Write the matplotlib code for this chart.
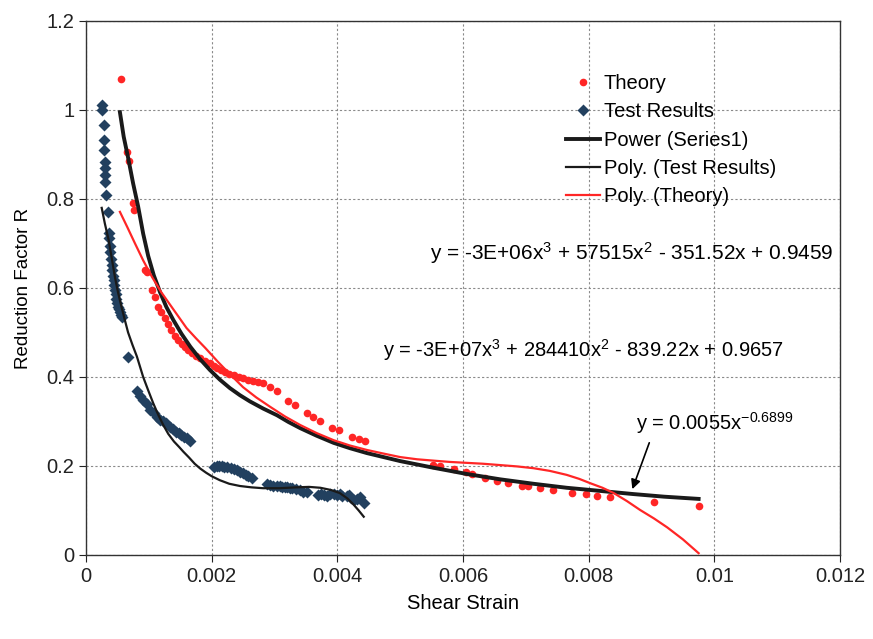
import numpy as np
import matplotlib
matplotlib.use('Agg')
import matplotlib.pyplot as plt

plt.rcParams['font.family'] = ['Liberation Sans', 'DejaVu Sans']
plt.rcParams['mathtext.default'] = 'regular'

# Theory points (shear strain, R)
theory_x = [0.00056, 0.00066, 0.00068, 0.00075, 0.00076, 0.00094, 0.00097, 0.00105, 0.00110,
            0.00115, 0.00120, 0.00126, 0.00131, 0.00136, 0.00142, 0.00147, 0.00153, 0.00158,
            0.00163, 0.00168, 0.00175, 0.00182, 0.00190, 0.00197, 0.00203, 0.00208, 0.00215,
            0.00221, 0.00228, 0.00235, 0.00243, 0.00250, 0.00258, 0.00266, 0.00274, 0.00282,
            0.00293, 0.00304, 0.00322, 0.00333, 0.00351, 0.00362, 0.00373, 0.00391, 0.00402,
            0.00423, 0.00434, 0.00444, 0.00553, 0.00564, 0.00585, 0.00604, 0.00614, 0.00635,
            0.00654, 0.00672, 0.00694, 0.00704, 0.00723, 0.00744, 0.00773, 0.00795, 0.00814,
            0.00834, 0.00904, 0.00975]
theory_y = [1.07, 0.905, 0.885, 0.79, 0.775, 0.64, 0.635, 0.596, 0.58,
            0.558, 0.545, 0.533, 0.52, 0.505, 0.493, 0.483, 0.475, 0.468,
            0.461, 0.454, 0.448, 0.442, 0.436, 0.431, 0.425, 0.420, 0.415,
            0.411, 0.407, 0.404, 0.400, 0.397, 0.393, 0.390, 0.388, 0.386,
            0.378, 0.369, 0.347, 0.337, 0.318, 0.310, 0.300, 0.286, 0.280,
            0.266, 0.260, 0.255, 0.203, 0.200, 0.193, 0.186, 0.182, 0.174,
            0.166, 0.161, 0.155, 0.154, 0.150, 0.145, 0.140, 0.136, 0.133,
            0.130, 0.118, 0.109]

# Test results
test_x = [0.00025, 0.00026, 0.00028, 0.00029, 0.00029, 0.00030, 0.00030, 0.00030, 0.00030,
          0.00032, 0.00035, 0.00036, 0.00037, 0.00038, 0.00039, 0.00040, 0.00041, 0.00042,
          0.00043, 0.00044, 0.00045, 0.00046, 0.00047, 0.00048, 0.00050, 0.00051, 0.00053,
          0.00054, 0.00056, 0.00057, 0.00067,
          0.00081, 0.00086, 0.00091, 0.00097, 0.00102, 0.00108, 0.00113, 0.00118, 0.00123,
          0.00128, 0.00134, 0.00139, 0.00144, 0.00148, 0.00152, 0.00156, 0.00160, 0.00166,
          0.00203, 0.00208, 0.00212, 0.00216, 0.00219, 0.00224, 0.00230, 0.00235, 0.00240,
          0.00245, 0.00250, 0.00254, 0.00258, 0.00264,
          0.00288, 0.00293, 0.00298, 0.00304, 0.00308, 0.00312, 0.00316, 0.00320, 0.00324,
          0.00328, 0.00335, 0.00340, 0.00346, 0.00351,
          0.00370, 0.00374, 0.00378, 0.00383, 0.00388, 0.00394, 0.00399, 0.00404, 0.00408,
          0.00415, 0.00419, 0.00422, 0.00426, 0.00431, 0.00436, 0.00442]
test_y = [1.011, 1.0, 0.966, 0.933, 0.91, 0.884, 0.87, 0.854, 0.839,
          0.809, 0.771, 0.723, 0.712, 0.695, 0.680, 0.665, 0.652, 0.640,
          0.628, 0.617, 0.606, 0.596, 0.586, 0.576, 0.566, 0.558, 0.552,
          0.546, 0.540, 0.535, 0.444,
          0.368, 0.357, 0.348, 0.340, 0.326, 0.318, 0.311, 0.303, 0.300,
          0.296, 0.288, 0.283, 0.277, 0.273, 0.269, 0.265, 0.262, 0.257,
          0.198, 0.200, 0.199, 0.199, 0.198, 0.197, 0.195, 0.193, 0.190,
          0.187, 0.184, 0.180, 0.177, 0.172,
          0.159, 0.158, 0.156, 0.154, 0.155, 0.153, 0.152, 0.152, 0.151,
          0.151, 0.148, 0.146, 0.142, 0.142,
          0.135, 0.137, 0.134, 0.133, 0.136, 0.137, 0.135, 0.136, 0.133,
          0.132, 0.134, 0.128, 0.124, 0.126, 0.130, 0.116]

# Trendlines
power_x = [0.00054, 0.00060, 0.00067, 0.00075, 0.00083, 0.00091, 0.00099, 0.00108, 0.00118,
           0.00128, 0.00139, 0.00152, 0.00166, 0.00181, 0.00197, 0.00213, 0.00229, 0.00245,
           0.00261, 0.00282, 0.00304, 0.00322, 0.00341, 0.00367, 0.00394, 0.00420, 0.00447,
           0.0050, 0.00553, 0.00606, 0.00659, 0.00712, 0.00765, 0.00818, 0.00870, 0.00920,
           0.00975]
power_y = [0.995, 0.94, 0.893, 0.835, 0.783, 0.722, 0.672, 0.628, 0.590,
           0.557, 0.528, 0.497, 0.468, 0.441, 0.416, 0.394, 0.375, 0.359,
           0.345, 0.329, 0.314, 0.299, 0.285, 0.268, 0.252, 0.240, 0.229,
           0.211, 0.196, 0.182, 0.170, 0.160, 0.151, 0.144, 0.137, 0.131,
           0.126]

poly_test_x = [0.00025, 0.00030, 0.00036, 0.00041, 0.00046, 0.00051, 0.00057, 0.00062, 0.00067,
               0.00074, 0.00081, 0.00086, 0.00091, 0.00099, 0.00107, 0.00115, 0.00123, 0.00131,
               0.00140, 0.00148, 0.00155, 0.00164, 0.00173, 0.00182, 0.00191, 0.00200, 0.00213,
               0.00228, 0.00245, 0.00263, 0.00282, 0.00308, 0.00335, 0.00355, 0.00373, 0.00390,
               0.00404, 0.00416, 0.00426, 0.00434, 0.00442]
poly_test_y = [0.78, 0.745, 0.708, 0.667, 0.625, 0.590, 0.555, 0.527, 0.50,
               0.472, 0.446, 0.423, 0.40, 0.370, 0.341, 0.315, 0.292, 0.272,
               0.255, 0.243, 0.232, 0.219, 0.205, 0.194, 0.185, 0.177, 0.168,
               0.160, 0.155, 0.152, 0.150, 0.150, 0.152, 0.153, 0.151, 0.146,
               0.139, 0.127, 0.113, 0.100, 0.086]

poly_theory_x = [0.00054, 0.00066, 0.00078, 0.00091, 0.00105, 0.00120, 0.00136, 0.00148, 0.0016,
                 0.00175, 0.0019, 0.0021, 0.0023, 0.0025, 0.00271, 0.00293, 0.00317, 0.00341,
                 0.00367, 0.00394, 0.0042, 0.00447, 0.00473, 0.0050, 0.00527, 0.00553, 0.0058,
                 0.00606, 0.00632, 0.00659, 0.00686, 0.00712, 0.00738, 0.00765, 0.00785, 0.00803,
                 0.00822, 0.00840, 0.00861, 0.00882, 0.00904, 0.00925, 0.00950, 0.00975]
poly_theory_y = [0.771, 0.736, 0.70, 0.662, 0.625, 0.590, 0.558, 0.534, 0.51,
                 0.487, 0.465, 0.434, 0.405, 0.377, 0.354, 0.333, 0.311, 0.292,
                 0.274, 0.258, 0.246, 0.236, 0.228, 0.220, 0.215, 0.212, 0.209,
                 0.207, 0.205, 0.202, 0.199, 0.195, 0.189, 0.180, 0.171, 0.161,
                 0.151, 0.139, 0.121, 0.101, 0.082, 0.062, 0.035, 0.004]

xticks = [0, 0.002, 0.004, 0.006, 0.008, 0.01, 0.012]
xticklabels = ['0', '0.002', '0.004', '0.006', '0.008', '0.01', '0.012']
yticks = [0, 0.2, 0.4, 0.6, 0.8, 1.0, 1.2]
yticklabels = ['0', '0.2', '0.4', '0.6', '0.8', '1', '1.2']

red = '#ff2626'
navy = '#22405f'

fig = plt.figure(figsize=(8.73, 6.39), dpi=100)
ax = fig.add_axes([0.0985, 0.1315, 0.8637, 0.8357])

ax.plot(theory_x, theory_y, 'o', color=red, ms=5.5, mec='none', label='Theory', zorder=3)
ax.plot(test_x, test_y, 'D', color=navy, ms=6, mec='none', label='Test Results', zorder=3)
ax.plot(power_x, power_y, '-', color='#1a1a1a', lw=2.8, label='Power (Series1)', zorder=4)
ax.plot(poly_test_x, poly_test_y, '-', color='#1a1a1a', lw=1.6, label='Poly. (Test Results)', zorder=4)
ax.plot(poly_theory_x, poly_theory_y, '-', color=red, lw=1.6, label='Poly. (Theory)', zorder=4)

ax.set_xlim(0, 0.012)
ax.set_ylim(0, 1.2)
ax.set_xticks(xticks)
ax.set_xticklabels(xticklabels)
ax.set_yticks(yticks)
ax.set_yticklabels(yticklabels)
ax.tick_params(labelsize=14.5, direction='out', length=5, colors='#222222')
ax.grid(True, color='#8a8a8a', linestyle=(0, (2, 2)), lw=0.8)
for s in ax.spines.values():
    s.set_color('#333333')
    s.set_linewidth(1)

ax.set_xlabel('Shear Strain', fontsize=14.5, labelpad=6)
ax.set_ylabel('Reduction Factor R', fontsize=13.5, labelpad=10)

ax.legend(loc='upper left', bbox_to_anchor=(0.648, 0.884), bbox_transform=fig.transFigure,
          frameon=False, fontsize=14.5, numpoints=1, handlelength=1.7, handletextpad=0.2,
          labelspacing=0.46, borderpad=0, borderaxespad=0)

ax.text(0.00548, 0.679, 'y = -3E+06x$^3$ + 57515x$^2$ - 351.52x + 0.9459', fontsize=15,
        va='center', ha='left')
ax.text(0.00473, 0.461, 'y = -3E+07x$^3$ + 284410x$^2$ - 839.22x + 0.9657', fontsize=14.5,
        va='center', ha='left')
ax.text(0.00876, 0.297, 'y = 0.0055x$^{-0.6899}$', fontsize=14.5, va='center', ha='left')
ax.annotate('', xy=(0.00868, 0.142), xytext=(0.00898, 0.258),
            arrowprops=dict(arrowstyle='-|>', color='black', lw=1.2, mutation_scale=14))

fig.savefig('out.png', dpi=100)
